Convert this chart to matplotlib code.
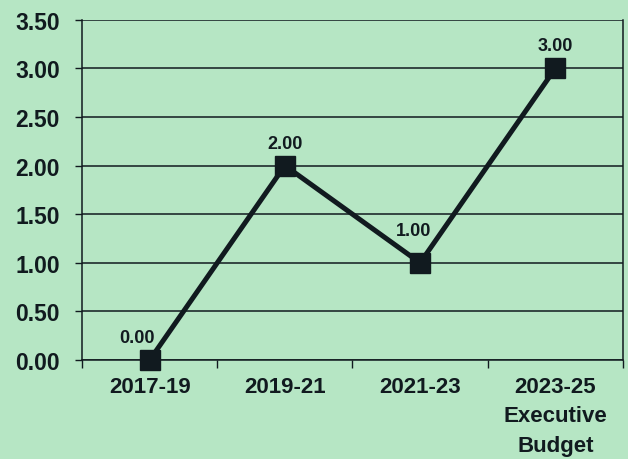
import matplotlib
matplotlib.use('Agg')
import matplotlib.pyplot as plt
import numpy as np

# data
periods = ['2017-19', '2019-21', '2021-23', '2023-25\nExecutive\nBudget']
values = [0.00, 2.00, 1.00, 3.00]
yticks = [0.0, 0.5, 1.0, 1.5, 2.0, 2.5, 3.0, 3.5]

# where each value label sits relative to its marker (points)
label_offsets = [(-9, 10), (0, 10), (-5, 17), (0, 10)]

bg = '#b6e6c4'
ink = '#111a1f'

plt.rcParams['font.family'] = ['Liberation Sans', 'DejaVu Sans']
plt.rcParams['font.weight'] = 'bold'

fig = plt.figure(figsize=(6.28, 4.6), dpi=100, facecolor=bg)
ax = fig.add_axes([0.1306, 0.215, 0.8614, 0.74])
ax.set_facecolor(bg)

x = np.arange(len(periods))
ax.plot(x, values, '-', color=ink, lw=3.6, marker='s', ms=14.5,
        mfc=ink, mec=ink, zorder=5, clip_on=False)
for xi, v, off in zip(x, values, label_offsets):
    ax.annotate('%.2f' % v, (xi, v), xytext=off, textcoords='offset points',
                ha='center', va='bottom', fontsize=13, fontweight='bold',
                color=ink)

# axis ranges and grid
ax.set_xlim(-0.5, len(periods) - 0.5)
ax.set_ylim(0, 3.5)
ax.set_yticks(yticks)
ax.set_yticklabels(['%.2f' % t for t in yticks], fontsize=16.5,
                   fontweight='bold', color=ink)
for t in yticks:
    ax.axhline(t, color=ink, lw=1.1, zorder=1)

# category labels between boundary ticks
ax.set_xticks(np.arange(len(periods) + 1) - 0.5)
ax.set_xticklabels([])
ax.set_xticks(x, minor=True)
ax.set_xticklabels(periods, minor=True, fontsize=16, fontweight='bold',
                   color=ink, linespacing=1.52)
ax.tick_params(axis='x', which='minor', length=0, pad=11.5)
ax.tick_params(axis='x', which='major', length=6, width=1, color=ink,
               direction='out')
ax.tick_params(axis='y', length=5, width=1, color=ink, direction='out', pad=11)

for s in ['left', 'right', 'top', 'bottom']:
    ax.spines[s].set_color(ink)
    ax.spines[s].set_linewidth(1.1)
ax.spines['top'].set_visible(False)

fig.savefig('out.png', dpi=100, facecolor=bg)
